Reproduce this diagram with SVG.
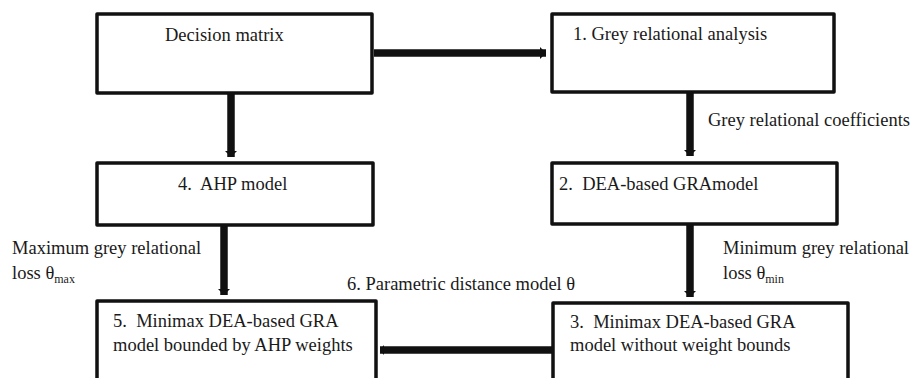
<svg xmlns="http://www.w3.org/2000/svg" width="923" height="378" viewBox="0 0 923 378">
<defs>
<style>
.box{fill:#fff;stroke:#111;stroke-width:3.5;stroke-linejoin:round}
.t{font-family:'Liberation Serif','Times New Roman','DejaVu Serif',serif;font-size:18.5px;fill:#1a1a1a}
.sub{font-size:12px}
.c{stroke:#111;stroke-width:7.5;fill:none}
</style>
<marker id="ah" markerUnits="userSpaceOnUse" markerWidth="14" markerHeight="16" refX="7" refY="8" orient="auto">
<path d="M1,2 L7,8 L1,14 Z" fill="#111"/>
</marker>
<marker id="ah2" markerUnits="userSpaceOnUse" markerWidth="10" markerHeight="12" refX="5" refY="6" orient="auto">
<path d="M1,1 L5,6 L1,11 Z" fill="#111"/>
</marker>
</defs>
<rect width="923" height="378" fill="#fff"/>
<g id="connectors">
<line class="c" x1="374" y1="53" x2="546" y2="53" marker-end="url(#ah)"/>
<line class="c" x1="231" y1="94" x2="231" y2="157" marker-end="url(#ah)"/>
<line class="c" x1="690" y1="93" x2="690" y2="156" marker-end="url(#ah)"/>
<line class="c" x1="224" y1="225" x2="224" y2="295" marker-end="url(#ah)"/>
<line class="c" x1="690" y1="224" x2="690" y2="297" marker-end="url(#ah)"/>
<line class="c" x1="553" y1="350" x2="380" y2="350" marker-end="url(#ah2)"/>
</g>
<g id="labels" font-family="Liberation Serif, serif">
<text class="t" x="708" y="126">Grey relational coefficients</text>
<text class="t" x="12" y="254">Maximum grey relational</text>
<text class="t" x="12" y="279">loss θ<tspan class="sub" dy="4">max</tspan></text>
<text class="t" x="723" y="254">Minimum grey relational</text>
<text class="t" x="723" y="279">loss θ<tspan class="sub" dy="4">min</tspan></text>
<text class="t" x="347" y="290">6. Parametric distance model θ</text>
</g>
<g id="decision-matrix">
<rect class="box" x="97" y="14" width="275" height="79"/>
<text class="t" x="165" y="41">Decision matrix</text>
</g>
<g id="gra">
<rect class="box" x="552" y="14" width="282" height="78"/>
<text class="t" x="573" y="40">1. Grey relational analysis</text>
</g>
<g id="ahp">
<rect class="box" x="97" y="163" width="276" height="62"/>
<text class="t" x="178" y="190" xml:space="preserve">4.  AHP model</text>
</g>
<g id="dea-gra">
<rect class="box" x="552" y="163" width="285" height="61"/>
<text class="t" x="559" y="190" xml:space="preserve">2.  DEA-based GRAmodel</text>
</g>
<g id="minimax-ahp">
<rect class="box" x="97" y="301" width="279" height="100"/>
<text class="t" x="113" y="327" xml:space="preserve">5.  Minimax DEA-based GRA</text>
<text class="t" x="113" y="351">model bounded by AHP weights</text>
</g>
<g id="minimax">
<rect class="box" x="553" y="303" width="295" height="100"/>
<text class="t" x="570" y="328" xml:space="preserve">3.  Minimax DEA-based GRA</text>
<text class="t" x="570" y="351">model without weight bounds</text>
</g>
</svg>
